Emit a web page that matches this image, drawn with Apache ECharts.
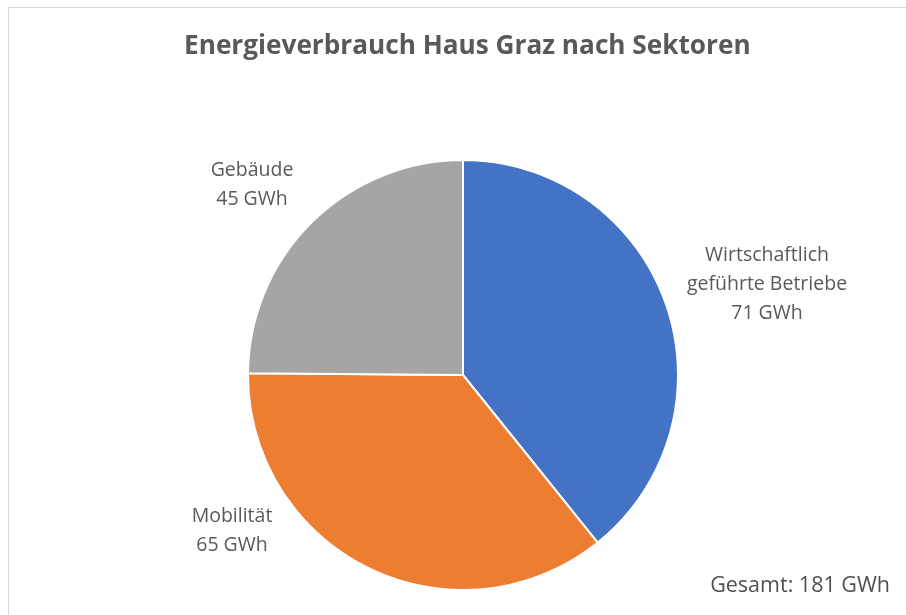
<!DOCTYPE html>
<html>
<head>
<meta charset="utf-8">
<script src="https://cdn.jsdelivr.net/npm/echarts@6/dist/echarts.min.js"></script>
<style>
  html, body { margin: 0; padding: 0; background: #fff; }
  #frame {
    position: absolute; left: 8px; top: 7px; width: 920px; height: 640px;
    border: 1px solid #d9d9d9; box-sizing: border-box;
  }
  #chart { position: absolute; left: 0; top: 0; width: 906px; height: 615px; }
</style>
</head>
<body>
<div id="frame"></div>
<div id="chart"></div>
<script>
const sectors = ['Wirtschaftlich\ngeführte Betriebe', 'Mobilität', 'Gebäude']
const values = [71, 65, 45]
const colors = ['#4472C4', '#ED7D31', '#A5A5A5']
const total = 181

// where Excel put the data labels (centre of text block)
const labelSpots = [[767, 284], [232, 531], [252, 185]]

const chart = echarts.init(document.getElementById('chart'))

chart.setOption({
  animation: false,
  title: {
    text: 'Energieverbrauch Haus Graz nach Sektoren',
    left: 179,
    top: 29,
    textStyle: {
      fontFamily: 'Open Sans',
      fontSize: 26.2,
      fontWeight: 'bold',
      color: '#595959'
    }
  },
  graphic: [{
    type: 'text',
    right: 16,
    top: 575,
    style: {
      text: 'Gesamt: ' + total + ' GWh',
      font: '21.5px "Open Sans"',
      fill: '#505050'
    }
  }],
  series: [{
    type: 'pie',
    center: [463, 375],
    radius: 215,
    startAngle: 90,
    clockwise: true,
    data: sectors.map((s, i) => ({
      name: s,
      value: values[i],
      itemStyle: { color: colors[i] }
    })),
    itemStyle: { borderColor: '#fff', borderWidth: 2 },
    label: {
      show: true,
      position: 'outside',
      formatter: p => p.name + '\n' + p.value + ' GWh',
      fontFamily: 'Open Sans',
      fontSize: 19.5,
      lineHeight: 29,
      color: '#595959',
      align: 'center'
    },
    labelLine: { show: false },
    labelLayout: p => ({
      x: labelSpots[p.dataIndex][0],
      y: labelSpots[p.dataIndex][1],
      align: 'center',
      verticalAlign: 'middle'
    }),
    emphasis: { disabled: true }
  }]
})
</script>
</body>
</html>
